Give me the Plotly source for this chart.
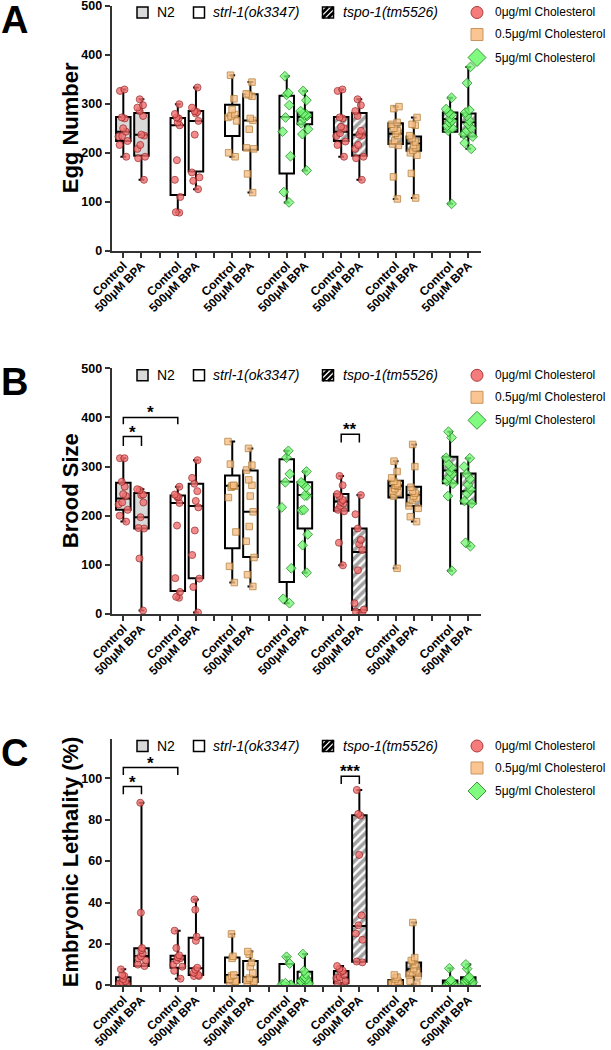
import plotly.graph_objects as go

W, H = 611, 1050
FONT = "Liberation Sans, Arial, Helvetica, sans-serif"

# ---------------- data ----------------
GENOTYPES = ["N2", "strl-1(ok3347)", "strl-1(ok3347)", "strl-1(ok3347)",
             "tspo-1(tm5526)", "tspo-1(tm5526)", "tspo-1(tm5526)"]
CHOLESTEROL = ["0", "0", "0.5", "5", "0", "0.5", "5"]
TREATMENTS = ["Control", "500μM BPA"]
CHOL_LABELS = ["0μg/ml Cholesterol", "0.5μg/ml Cholesterol", "5μg/ml Cholesterol"]
GENO_LABELS = ["N2", "strl-1(ok3347)", "tspo-1(tm5526)"]

# Panel A: egg number (box order: group1 Control, group1 BPA, group2 Control, ...)
EGG_UPPER = [329, 309, 299, 333, 358, 344, 356, 326, 329, 309, 294, 272, 312, 375]
EGG_Q3 = [273, 281, 271, 285, 298, 319, 316, 282, 273, 281, 260, 233, 282, 280]
EGG_MED = [243, 237, 256, 265, 275, 266, 273, 273, 243, 237, 239, 219, 269, 262]
EGG_Q1 = [224, 194, 114, 162, 234, 206, 158, 258, 224, 194, 218, 204, 243, 233]
EGG_LOWER = [192, 145, 79, 126, 192, 119, 99, 164, 192, 145, 106, 108, 96, 208]
EGG_POINTS = [
    [329, 326, 272, 270, 250, 243, 234, 233, 224, 216, 192],
    [309, 297, 292, 285, 275, 237, 235, 216, 208, 192, 189, 145],
    [299, 279, 272, 270, 262, 256, 185, 145, 110, 79, 78],
    [333, 292, 285, 283, 280, 265, 237, 160, 150, 143, 126],
    [358, 310, 288, 278, 275, 272, 265, 200, 192],
    [344, 320, 318, 315, 270, 266, 248, 210, 208, 157, 119],
    [356, 322, 318, 297, 272, 243, 193, 120, 99],
    [326, 307, 285, 280, 278, 276, 275, 270, 260, 248, 238, 164],
    [329, 326, 272, 270, 253, 250, 240, 234, 223, 216, 192],
    [309, 297, 285, 275, 245, 237, 235, 216, 208, 192, 189, 145],
    [294, 290, 262, 258, 250, 245, 240, 235, 225, 218, 215, 151, 106],
    [272, 258, 256, 235, 230, 222, 215, 210, 205, 200, 195, 158, 108],
    [312, 289, 282, 278, 270, 265, 262, 255, 250, 245, 96],
    [375, 342, 287, 282, 275, 265, 258, 250, 245, 238, 233, 220, 208],
]

# Panel B: brood size
BROOD_UPPER = [317, 254, 259, 313, 351, 337, 332, 290, 281, 242, 311, 345, 371, 317]
BROOD_Q3 = [267, 246, 241, 265, 282, 292, 315, 268, 244, 174, 271, 259, 320, 286]
BROOD_MED = [235, 197, 226, 220, 261, 208, 269, 242, 229, 126, 261, 242, 292, 250]
BROOD_Q1 = [212, 174, 47, 73, 134, 116, 65, 174, 210, 8, 237, 220, 266, 225]
BROOD_LOWER = [188, 7, 33, 3, 64, 56, 22, 84, 99, 3, 93, 188, 88, 138]
BROOD_POINTS = [
    [317, 317, 269, 259, 244, 240, 227, 223, 212, 200, 188],
    [254, 252, 243, 242, 227, 197, 175, 174, 113, 7],
    [259, 243, 240, 238, 237, 226, 180, 73, 45, 35, 33],
    [313, 277, 265, 250, 230, 217, 170, 120, 72, 55, 3],
    [351, 305, 262, 261, 260, 258, 237, 167, 97, 64],
    [337, 303, 293, 273, 262, 240, 208, 178, 148, 115, 80, 56],
    [332, 318, 285, 268, 217, 93, 31, 22],
    [290, 268, 265, 258, 241, 241, 212, 211, 162, 140, 84],
    [281, 262, 244, 240, 232, 228, 225, 220, 212, 209, 145, 99],
    [242, 203, 174, 151, 142, 130, 89, 22, 9, 5, 3],
    [311, 290, 277, 270, 265, 262, 260, 255, 250, 247, 240, 93],
    [345, 300, 258, 250, 246, 240, 236, 232, 220, 215, 198, 188],
    [371, 359, 318, 305, 298, 290, 285, 278, 270, 265, 240, 88],
    [317, 300, 285, 275, 263, 253, 245, 230, 225, 145, 138],
]

# Panel C: embryonic lethality (%)
LETH_UPPER = [7.7, 88.2, 26.4, 41.5, 24.8, 16.3, 13.8, 15.1, 9.3, 94.4, 5.0, 30.3, 8.2, 10.1]
LETH_Q3 = [3.9, 17.9, 14.3, 23.0, 13.4, 11.8, 10.3, 6.6, 6.9, 82.1, 2.6, 11.0, 2.3, 3.9]
LETH_MED = [1.8, 14.2, 12.6, 8.2, 5.0, 3.9, 1.0, 3.2, 3.9, 28.7, 1.6, 7.7, 1.0, 2.9]
LETH_Q1 = [0.6, 9.3, 8.5, 5.0, 1.3, 1.6, 0.3, 1.0, 1.0, 11.4, 0.6, 4.5, 0.3, 1.0]
LETH_LOWER = [0, 9.3, 3.2, 4.5, 1.0, 1.3, 0, 0.3, 0, 11.1, 0, 0.6, 0, 0.5]
LETH_POINTS = [
    [7.7, 5.0, 4.5, 3.0, 2.0, 1.5, 1.0, 0.5, 0, 0],
    [88.2, 35.1, 18.0, 17.0, 15.5, 14.0, 13.0, 12.0, 10.0, 9.3],
    [26.4, 18.0, 14.5, 13.5, 13.0, 12.0, 10.0, 9.0, 7.0, 3.2],
    [41.5, 36.5, 23.5, 21.5, 8.5, 7.5, 6.0, 5.0, 4.5, 4.5],
    [24.8, 14.0, 13.0, 5.0, 4.5, 3.0, 2.0, 1.0, 1.0],
    [16.3, 15.0, 11.0, 9.0, 6.0, 3.5, 2.5, 2.0, 1.5, 1.3],
    [13.8, 10.5, 1.0, 0.5, 0.3, 0, 0],
    [15.1, 7.0, 5.5, 4.0, 3.0, 3.0, 2.0, 1.0, 0.5, 0.3],
    [9.3, 8.0, 7.0, 6.5, 5.0, 4.0, 3.5, 2.0, 1.0, 0],
    [94.4, 82.8, 82.0, 63.0, 33.8, 29.0, 25.0, 22.0, 11.5, 11.1],
    [5.0, 4.0, 3.0, 2.0, 1.5, 1.0, 0.5, 0.3, 0],
    [30.3, 13.4, 12.0, 11.5, 10.0, 8.0, 7.0, 6.0, 5.0, 4.5, 2.0, 0.6],
    [8.2, 2.5, 2.0, 1.5, 1.0, 0.5, 0.3, 0, 0],
    [10.1, 8.0, 4.0, 3.5, 3.0, 2.5, 2.0, 1.5, 1.0, 0.5],
]

# significance comparisons: (box index a, box index b, tip value, bar value, label)
BROOD_SIG = [(0, 2, 386, 400, "*"), (0, 1, 342, 361, "*"), (8, 9, 349, 366, "**")]
LETH_SIG = [(0, 2, 101.6, 105.2, "*"), (0, 1, 92.3, 96.0, "*"), (8, 9, 97.3, 101.0, "***")]

PANELS = [
    dict(letter="A", title="Egg Number", upper=EGG_UPPER, q3=EGG_Q3, med=EGG_MED, q1=EGG_Q1,
         lower=EGG_LOWER, points=EGG_POINTS, sig=[], yrange=[0, 500], dtick=100, ticktop=500,
         top=5.5, bottom=251.0, axid="3"),
    dict(letter="B", title="Brood Size", upper=BROOD_UPPER, q3=BROOD_Q3, med=BROOD_MED, q1=BROOD_Q1,
         lower=BROOD_LOWER, points=BROOD_POINTS, sig=BROOD_SIG, yrange=[0, 500], dtick=100, ticktop=500,
         top=368.3, bottom=614.0, axid="2"),
    dict(letter="C", title="Embryonic Lethality (%)", upper=LETH_UPPER, q3=LETH_Q3, med=LETH_MED, q1=LETH_Q1,
         lower=LETH_LOWER, points=LETH_POINTS, sig=LETH_SIG, yrange=[0, 119], dtick=20, ticktop=100,
         top=739.0, bottom=985.3, axid=""),
]

# ---------------- styles ----------------
GENO_FILL = {"N2": "#d9d9d9", "strl-1(ok3347)": "#ffffff", "tspo-1(tm5526)": "#ffffff"}
GENO_PATTERN = {"N2": "", "strl-1(ok3347)": "", "tspo-1(tm5526)": "/"}
CHOL_STYLE = {
    "0": dict(symbol="circle", size=7, color="#f07070", line="#a02828"),
    "0.5": dict(symbol="square", size=6.5, color="#f8c088", line="#b5803a"),
    "5": dict(symbol="diamond", size=7.5, color="#78f878", line="#1f8f1f"),
}
X_LEFT, X_RIGHT = 111.7, 481.0
BOX_W = 0.8


def px(x):
    return x / W


def py(y):
    return 1 - y / H


def slot(k):
    return 3 * (k // 2) + (k % 2)


n_boxes = 2 * len(GENOTYPES)
SLOTS = [slot(k) for k in range(n_boxes)]
TICKVALS = list(range(SLOTS[-1] + 1))
TICKTEXT = [TREATMENTS[i % 3] if i % 3 < 2 else "" for i in TICKVALS]

fig = go.Figure()
shapes = []
annotations = []

for P in PANELS:
    xa = "x" + P["axid"]
    ya = "y" + P["axid"]
    genos = [GENOTYPES[k // 2] for k in range(n_boxes)]

    # box body fill (plain / gray / hatched)
    fig.add_trace(go.Bar(
        x=SLOTS, y=[P["q3"][k] - P["q1"][k] for k in range(n_boxes)], base=P["q1"],
        width=BOX_W, xaxis=xa, yaxis=ya, showlegend=False, hoverinfo="skip",
        marker=dict(color=[GENO_FILL[g] for g in genos], line=dict(width=0),
                    pattern=dict(shape=[GENO_PATTERN[g] for g in genos], fgcolor="black",
                                 bgcolor="white", size=6, solidity=0.6)),
    ))
    # box outlines, medians, whiskers
    fig.add_trace(go.Box(
        x=SLOTS, q1=P["q1"], median=P["med"], q3=P["q3"], lowerfence=P["lower"],
        upperfence=P["upper"], orientation="v", width=BOX_W, whiskerwidth=0.4,
        fillcolor="rgba(0,0,0,0)", line=dict(color="black", width=2), boxpoints=False,
        xaxis=xa, yaxis=ya, showlegend=False, hoverinfo="skip",
    ))
    # individual points
    for k in range(n_boxes):
        st = CHOL_STYLE[CHOLESTEROL[k // 2]]
        vals = P["points"][k]
        fig.add_trace(go.Box(
            x=[SLOTS[k]] * len(vals), y=vals, orientation="v", boxpoints="all", jitter=0.8,
            pointpos=0, width=BOX_W, fillcolor="rgba(0,0,0,0)",
            line=dict(color="rgba(0,0,0,0)", width=0),
            marker=dict(symbol=st["symbol"], size=st["size"], color=st["color"], opacity=0.8,
                        line=dict(color=st["line"], width=1)),
            xaxis=xa, yaxis=ya, showlegend=False, hoverinfo="skip",
        ))

    dom_y = [py(P["bottom"]), py(P["top"])]
    axis_common = dict(showline=True, linecolor="#333333", linewidth=2, ticks="outside",
                       ticklen=5, tickwidth=1.5, tickcolor="#333333", showgrid=False,
                       zeroline=False, automargin=False, ticklabeloverflow="allow")
    fig.update_layout(**{
        "xaxis" + P["axid"]: dict(
            domain=[px(X_LEFT), px(X_RIGHT)], range=[-0.64, 19.7], anchor=ya,
            tickmode="array", tickvals=TICKVALS, ticktext=TICKTEXT, tickangle=-45,
            ticklabelstandoff=-4,
            tickfont=dict(family=FONT, size=12, color="black", weight="bold"), **axis_common),
        "yaxis" + P["axid"]: dict(
            domain=dom_y, range=P["yrange"], anchor=xa, tickmode="array",
            tickvals=list(range(0, P["ticktop"] + 1, P["dtick"])),
            tickfont=dict(family=FONT, size=12.5, color="black", weight="bold"), **axis_common),
    })

    # significance brackets
    for a, b, tip, bar, lab in P["sig"]:
        xa0, xb0 = SLOTS[a], SLOTS[b]
        shapes.append(dict(type="path", xref=xa, yref=ya,
                           path=f"M {xa0},{tip} L {xa0},{bar} L {xb0},{bar} L {xb0},{tip}",
                           line=dict(color="black", width=1.5)))
        annotations.append(dict(x=(xa0 + xb0) / 2, y=bar, xref=xa, yref=ya, text=lab,
                                showarrow=False, xanchor="center", yanchor="bottom", yshift=-7,
                                font=dict(family=FONT, size=17, color="black", weight="bold")))

    # y axis title
    annotations.append(dict(x=px(70), y=(dom_y[0] + dom_y[1]) / 2, xref="paper", yref="paper",
                            text=P["title"], textangle=-90, showarrow=False,
                            xanchor="center", yanchor="middle",
                            font=dict(family=FONT, size=22, color="black", weight="bold")))
    # panel letter
    annotations.append(dict(x=px(15), y=py(P["top"] + 14), xref="paper", yref="paper",
                            text=P["letter"], showarrow=False, xanchor="center", yanchor="middle",
                            font=dict(family=FONT, size=38, color="black", weight="bold")))

    # genotype legend (top)
    T = P["top"]
    ry = T + 7
    s = 5.5
    icon_x = [142.5, 199.0, 328.0]
    text_x = [155.0, 211.0, 341.0]
    for i, g in enumerate(GENO_LABELS):
        cx = icon_x[i]
        shapes.append(dict(type="rect", xref="paper", yref="paper",
                           x0=px(cx - s), x1=px(cx + s), y0=py(ry + s), y1=py(ry - s),
                           fillcolor=GENO_FILL[g], line=dict(color="black", width=1.5)))
        if GENO_PATTERN[g]:
            for (x0, y0, x1, y1) in [(-s, s, s, -s), (-s, 0, 0, -s), (0, s, s, 0)]:
                shapes.append(dict(type="line", xref="paper", yref="paper",
                                   x0=px(cx + x0), y0=py(ry + y0), x1=px(cx + x1), y1=py(ry + y1),
                                   line=dict(color="black", width=2.6)))
        label = g if g == "N2" else f"<i>{g}</i>"
        annotations.append(dict(x=px(text_x[i]), y=py(ry), xref="paper", yref="paper", text=label,
                                showarrow=False, xanchor="left", yanchor="middle",
                                font=dict(family=FONT, size=14, color="black")))

    # cholesterol legend (right)
    rows = [T + 7, T + 29, T + 52]
    cx = 477.0
    for i, key in enumerate(["0", "0.5", "5"]):
        y = rows[i]
        if key == "0":
            r = 6
            shapes.append(dict(type="circle", xref="paper", yref="paper",
                               x0=px(cx - r), x1=px(cx + r), y0=py(y + r), y1=py(y - r),
                               fillcolor="#f47c7c", line=dict(color="#b03a3a", width=1)))
        elif key == "0.5":
            r = 6
            shapes.append(dict(type="rect", xref="paper", yref="paper",
                               x0=px(cx - r), x1=px(cx + r), y0=py(y + r), y1=py(y - r),
                               fillcolor="#fac591", line=dict(color="#c79560", width=1)))
        else:
            r = 9
            path = (f"M {px(cx - r)},{py(y)} L {px(cx)},{py(y - r)} L {px(cx + r)},{py(y)} "
                    f"L {px(cx)},{py(y + r)} Z")
            shapes.append(dict(type="path", xref="paper", yref="paper", path=path,
                               fillcolor="#80fb80", line=dict(color="#3a9a3a", width=1)))
        annotations.append(dict(x=px(493), y=py(y), xref="paper", yref="paper",
                                text=CHOL_LABELS[i], showarrow=False, xanchor="left",
                                yanchor="middle", font=dict(family=FONT, size=12, color="black")))

fig.update_layout(
    width=W, height=H, autosize=False,
    margin=dict(l=0, r=0, t=0, b=0, autoexpand=False),
    paper_bgcolor="white", plot_bgcolor="white",
    showlegend=False, boxmode="overlay", barmode="overlay",
    shapes=shapes, annotations=annotations,
    font=dict(family=FONT, color="black"),
)

fig.write_html("out.html", config={"displayModeBar": False},
               post_script="document.body.style.margin='0';")
